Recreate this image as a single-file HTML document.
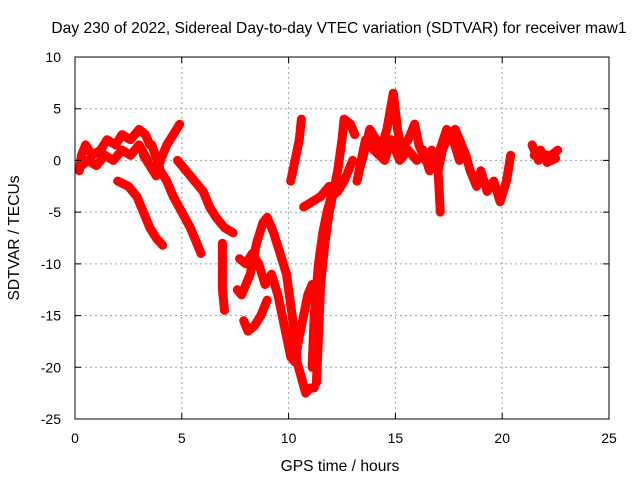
<!DOCTYPE html>
<html><head><meta charset="utf-8"><style>
body{margin:0;background:#fff}
svg{display:block;font-family:"Liberation Sans",sans-serif}
</style></head><body>
<svg id="chart" width="640" height="480" viewBox="0 0 640 480">
<rect width="640" height="480" fill="#fff"/>
<text x="339" y="33" font-size="15.6" text-anchor="middle">Day 230 of 2022, Sidereal Day-to-day VTEC variation (SDTVAR) for receiver maw1</text>
<text x="340" y="471" font-size="15.6" text-anchor="middle">GPS time / hours</text>
<text transform="translate(19,238) rotate(-90)" font-size="15.6" text-anchor="middle">SDTVAR / TECUs</text>
<g id="grid"></g>
<g id="marks"></g>
<rect x="75" y="57" width="534" height="362" fill="none" stroke="#000" stroke-width="1"/>
<g id="axes"></g>
</svg>
<script>
const xTicks=[0,5,10,15,20,25];
const yTicks=[10,5,0,-5,-10,-15,-20,-25];
const arcA=[[0.2,-1],[0.3,0.5],[0.5,1.5],[0.8,0.5],[1.2,1],[1.5,2],[1.9,1.5],[2.2,2.5],[2.6,2],[3,3],[3.3,2.5],[3.5,1.5]];
const arcA2=[[0.3,-0.5],[0.6,0],[1,-0.5],[1.4,0.5],[1.8,0],[2.2,1],[2.6,0.5],[3,1.5],[3.4,0]];
const arcB=[[2,-2],[2.5,-2.5],[2.9,-3.5],[3.2,-5],[3.5,-6.5],[3.8,-7.5],[4.1,-8.2]];
const arcC=[[3.2,0.5],[3.5,-0.5],[3.8,-1.5],[4,0],[4.3,1.5],[4.6,2.5],[4.9,3.5]];
const arcD=[[3.6,1.5],[4,-1],[4.3,-2],[4.6,-3.5],[5,-5],[5.4,-6.5],[5.7,-8],[5.9,-9]];
const arcE=[[4.8,0],[5.2,-1],[5.6,-2],[6,-3],[6.3,-4.5],[6.6,-5.5],[7,-6.5],[7.4,-7]];
const arcF=[[6.9,-8],[6.9,-10],[6.9,-12.5],[7,-14.5]];
const arcG=[[7.6,-12.5],[7.8,-13],[8.2,-11],[8.5,-8],[8.8,-6],[9,-5.5],[9.3,-7],[9.6,-9],[9.9,-11],[10.1,-14],[10.3,-17],[10.4,-19.5],[10.6,-21],[10.8,-22.5],[11,-22],[11.2,-22]];
const arcH=[[7.7,-9.5],[8,-10],[8.3,-9],[8.6,-10],[8.9,-12],[9.2,-11],[9.5,-13],[9.7,-15],[9.9,-17],[10.1,-19],[10.3,-19.5],[10.5,-17],[10.7,-15],[10.9,-13],[11.1,-12]];
const arcI=[[7.9,-15.5],[8.1,-16.5],[8.4,-16],[8.7,-15],[9,-13.5]];
const arcJ=[[11.3,-21.5],[11.4,-17],[11.5,-12],[11.7,-8],[11.9,-5],[12.1,-3],[12.3,-1],[12.5,2],[12.6,4],[12.9,3.5],[13.1,2.5]];
const arcK=[[11.1,-20],[11.2,-15],[11.4,-10],[11.6,-7],[11.8,-5],[12,-3.5],[12.3,-3],[12.6,-2],[12.8,-1],[13,0]];
const arcL=[[10.1,-2],[10.3,0],[10.5,2],[10.6,4]];
const arcM=[[10.7,-4.5],[11.1,-4],[11.5,-3.5],[11.9,-2.5]];
const arcN=[[13.3,-1],[13.5,0.5],[13.8,3],[14.1,2],[14.3,1],[14.6,3],[14.9,6.5],[15.1,3],[15.3,1],[15.6,2],[15.9,3.5],[16.1,1.5],[16.4,0],[16.7,1],[17,-1],[17.2,1],[17.5,2.5],[17.8,3],[18,2],[18.3,0.5],[18.5,-1],[18.8,-2.5],[19,-1],[19.3,-3],[19.6,-2],[19.9,-4],[20.2,-2],[20.4,0.5]];
const arcN2=[[13.2,-2],[13.6,2],[14,1],[14.5,0],[14.8,2],[15.2,0],[15.6,1],[16,0]];
const arcN3=[[16.3,1],[16.6,-1],[17,0.5],[17.4,3],[17.7,2],[18,0]];
const arcO=[[21.4,1.5],[21.7,0],[22,0.5],[22.3,0.5],[22.6,1]];
const arcO2=[[21.5,0.5],[21.8,1],[22.1,-0.2],[22.5,0.2]];
const arcP=[[17,-1],[17.05,-3],[17.1,-5]];
const arcs=[arcA,arcA2,arcB,arcC,arcD,arcE,arcF,arcG,arcH,arcI,arcJ,arcK,arcL,arcM,arcN,arcN2,arcN3,arcO,arcO2,arcP];
const X0=75,X1=609,Y0=419,Y1=57;
const sx=v=>X0+(v-0)/(25-0)*(X1-X0);
const sy=v=>Y0-(v+25)/(35)*(Y0-Y1);
const NS='http://www.w3.org/2000/svg';
function mk(t,a,p){const e=document.createElementNS(NS,t);for(const k in a)e.setAttribute(k,a[k]);p.appendChild(e);return e;}
const grid=document.getElementById('grid'),axes=document.getElementById('axes'),marks=document.getElementById('marks');
xTicks.forEach(t=>{const x=sx(t);
 if(t>0&&t<25){const l=mk('line',{x1:x,x2:x,y1:Y0,y2:Y1,stroke:'#a0a0a0','stroke-dasharray':'2,3'},grid);
 }
 const tk=mk('path',{d:`M${x},${Y0}v-6M${x},${Y1}v6`,stroke:'#000'},axes);
 
 const tx=mk('text',{x:x,y:443,'font-size':14,'text-anchor':'middle'},axes);tx.textContent=t;
 });
yTicks.forEach(t=>{const y=sy(t);
 if(t>-25&&t<10){const l=mk('line',{x1:X0,x2:X1,y1:y,y2:y,stroke:'#a0a0a0','stroke-dasharray':'2,3'},grid);
 }
 const tk=mk('path',{d:`M${X0},${y}h6M${X1},${y}h-6`,stroke:'#000'},axes);
 
 const tx=mk('text',{x:61,y:y+5,'font-size':14,'text-anchor':'end'},axes);tx.textContent=t;
 });
arcs.forEach((arc,i)=>{
 const d=arc.map((p,j)=>(j?'L':'M')+sx(p[0]).toFixed(1)+','+sy(p[1]).toFixed(1)).join('');
 const pl=mk('path',{d:d,fill:'none',stroke:'#f00','stroke-width':9,'stroke-linejoin':'round','stroke-linecap':'round'},marks);
 
 
 arc.forEach(p=>{const x=sx(p[0]),y=sy(p[1]);
  const m=mk('path',{d:`M${x-4},${y}h8M${x},${y-4}v8`,stroke:'#f00','stroke-width':1},marks);
  
  });
});
</script>
</body></html>
